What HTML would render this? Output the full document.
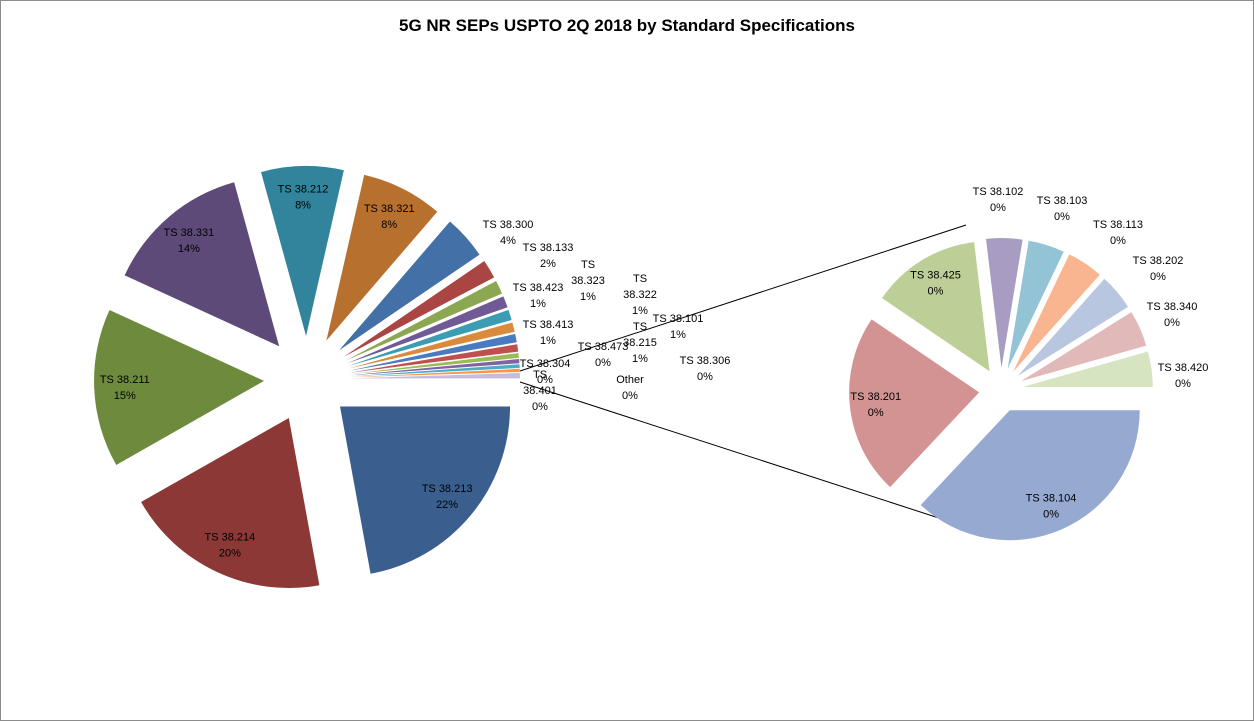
<!DOCTYPE html>
<html><head><meta charset="utf-8"><style>
html,body{margin:0;padding:0;background:#fff}
svg{display:block;font-family:"Liberation Sans",sans-serif}
</style></head><body>
<svg id="chart" width="1254" height="721" viewBox="0 0 1254 721">
<rect x="0.5" y="0.5" width="1253" height="720" fill="#fff" stroke="#8c8c8c"/>
<text x="627" y="31" text-anchor="middle" font-size="17" font-weight="bold" fill="#000">5G NR SEPs USPTO 2Q 2018 by Standard Specifications</text>
<g id="lines"></g><g id="main"></g><g id="second"></g><g id="labels"></g>
</svg>
<script>
const mainCats=["TS 38.213","TS 38.214","TS 38.211","TS 38.331","TS 38.212","TS 38.321","TS 38.300","TS 38.133","TS 38.423","TS 38.323","TS 38.413","TS 38.322","TS 38.101","TS 38.215","TS 38.473","TS 38.304","TS 38.401","TS 38.306","Other"];
const mainVals=[22.3,19.8,15.2,14.0,7.9,7.8,4.2,1.8,1.3,1.1,1.0,0.9,0.8,0.7,0.45,0.4,0.35,0.3,0.5];
const mainLbls=["22%","20%","15%","14%","8%","8%","4%","2%","1%","1%","1%","1%","1%","1%","0%","0%","0%","0%","0%"];
const secCats=["TS 38.104","TS 38.201","TS 38.425","TS 38.102","TS 38.103","TS 38.113","TS 38.202","TS 38.340","TS 38.420"];
const secVals=[37,22.5,13.6,4.5,4.5,4.5,4.5,4.5,4.4];
const secLbls=["0%","0%","0%","0%","0%","0%","0%","0%","0%"];
const mainColors=["#3A5F8F","#8C3836","#6E8B3D","#5D4A78","#31849B","#B8702F","#4470A8","#A94543","#8CA752","#6F5A95","#3C9CB3","#DA8A3B","#4A7AC0","#C0504D","#9BBB59","#8064A2","#4BACC6","#F79646","#C4BCDA"];
const secColors=["#95A9D1","#D39392","#BCCF96","#A99CC2","#93C4D6","#F9B58F","#B9C6E0","#E1B9B8","#D7E4C1"];
// label layout for small slices (fixed text placement)
const mainSmallLayout={6:[508,228],7:[548,251],8:[538,291],9:[588,268,1],10:[548,328],11:[640,282,1],12:[678,322],13:[640,330,1],14:[603,350],15:[545,367],16:[540,378,1],17:[705,364],18:[630,383]};
const secSmallLayout={3:[998,195],4:[1062,204],5:[1118,228],6:[1158,264],7:[1172,310],8:[1183,371]};
const NS="http://www.w3.org/2000/svg";
function slicePath(cx,cy,r,a0,a1){const p=(a)=>[cx+r*Math.cos(a),cy+r*Math.sin(a)];const s=p(a0),e=p(a1);const large=(a1-a0)>Math.PI?1:0;
return `M${cx.toFixed(2)},${cy.toFixed(2)}L${s[0].toFixed(2)},${s[1].toFixed(2)}A${r},${r} 0 ${large} 1 ${e[0].toFixed(2)},${e[1].toFixed(2)}Z`;}
function addLabel(x,y,name,pct,nm,split){const t=document.createElementNS(NS,"text");t.setAttribute("font-size","11");t.setAttribute("text-anchor","middle");t.setAttribute("fill","#000");


const lines=split?name.split(" ").concat([pct]):[name,pct];
lines.forEach((s,i)=>{const ts=document.createElementNS(NS,"tspan");ts.setAttribute("x",x);ts.setAttribute("y",y+i*16);ts.textContent=s;t.appendChild(ts);});
document.getElementById("labels").appendChild(t);}
function drawPie(gid,cats,vals,lbls,colors,cx,cy,r,off,lfrac,layout,prefix){
const tot=vals.reduce((a,b)=>a+b,0);let a=0;const g=document.getElementById(gid);
cats.forEach((c,i)=>{const sw=vals[i]/tot*2*Math.PI;const a0=a,a1=a+sw;a=a1;const mid=(a0+a1)/2;
const ox=cx+off*Math.cos(mid),oy=cy+off*Math.sin(mid);const path=document.createElementNS(NS,"path");
path.setAttribute("d",slicePath(ox,oy,r,a0,a1));path.setAttribute("fill",colors[i]);


g.appendChild(path);
const nm=prefix+"-label-"+c.replace("TS ","").replace(".","-").toLowerCase();
if(layout[i]){addLabel(layout[i][0],layout[i][1],c,lbls[i],nm,layout[i][2]);}
else{const lr=r*lfrac;addLabel(ox+lr*Math.cos(mid),oy+lr*Math.sin(mid)-4,c,lbls[i],nm,false);}
});}
drawPie("main",mainCats,mainVals,mainLbls,mainColors,307,379,170,43,0.82,mainSmallLayout,"main");
drawPie("second",secCats,secVals,secLbls,secColors,1001,390,130,22,0.8,secSmallLayout,"second");
const lg=document.getElementById("lines");
[[520,371,966,225],[520,382,945,520]].forEach((l,i)=>{const ln=document.createElementNS(NS,"line");ln.setAttribute("x1",l[0]);ln.setAttribute("y1",l[1]);ln.setAttribute("x2",l[2]);ln.setAttribute("y2",l[3]);ln.setAttribute("stroke","#000");ln.setAttribute("stroke-width","1");


lg.appendChild(ln);});
</script>
</body></html>
